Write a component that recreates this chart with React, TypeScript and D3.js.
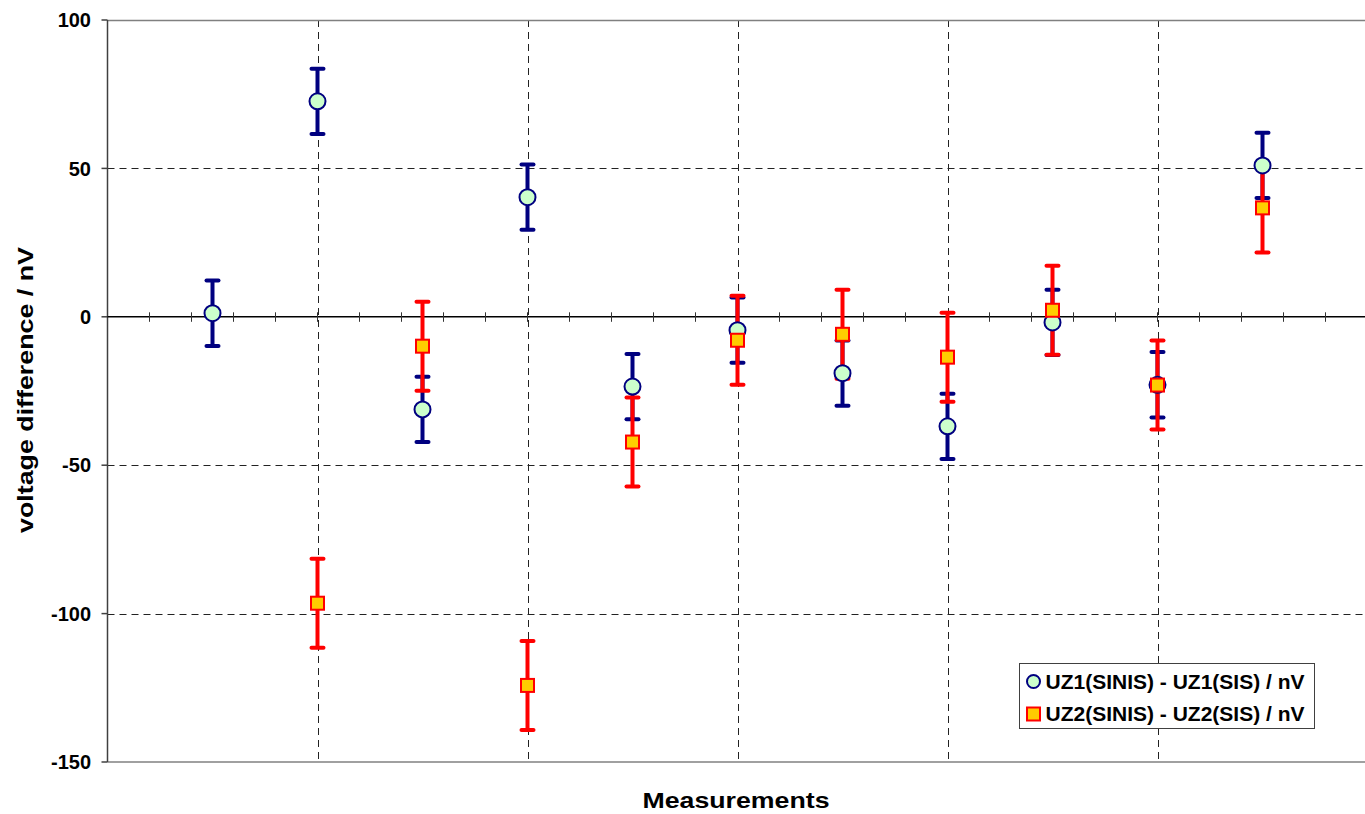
import { useEffect, useRef } from 'react';
import * as d3 from 'd3';

// measurement index on the x axis
const measurements = [1, 2, 3, 4, 5, 6, 7, 8, 9, 10, 11];

// UZ1(SINIS) - UZ1(SIS) in nV, with its error
const uz1Values = [1.2, 72.6, -31.2, 40.3, -23.5, -4.5, -19, -36.9, -1.9, -22.9, 51];
const uz1Errors = [11, 11, 11, 11, 11, 11, 11, 11, 11, 11, 11];

// UZ2(SINIS) - UZ2(SIS) in nV, with its error (no value for the first measurement)
const uz2Values: (number | null)[] = [null, -96.5, -9.9, -124.2, -42.2, -7.9, -5.9, -13.6, 2.2, -23, 36.7];
const uz2Errors: (number | null)[] = [null, 15, 15, 15, 15, 15, 15, 15, 15, 15, 15];

const yTicks = [100, 50, 0, -50, -100, -150];
const xGridTicks = [2, 4, 6, 8, 10];

const seriesNames = ['UZ1(SINIS) - UZ1(SIS) / nV', 'UZ2(SINIS) - UZ2(SIS) / nV'];

export default function App() {
  const svgRef = useRef<SVGSVGElement>(null);
  const width = 1365;
  const height = 814;
  const plot = { left: 107.5, top: 20, bottom: 762 };

  useEffect(() => {
    if (!svgRef.current) return;
    const svg = d3.select(svgRef.current);
    svg.selectAll('*').remove();

    const x = d3.scaleLinear().domain([0, 12]).range([plot.left, plot.left + 12 * 105]);
    const y = d3.scaleLinear().domain([-150, 100]).range([plot.bottom, plot.top]);
    const font = 'Arial, "Liberation Sans", sans-serif';

    // Grid lines
    const grid = svg.append('g')
      .attr('stroke', '#222')
      .attr('stroke-width', 1)
      .attr('stroke-dasharray', '7,5');
    grid.selectAll('.hgrid')
      .data(yTicks.filter(d => d !== 0 && d !== 100 && d !== -150))
      .join('line')
      .attr('x1', plot.left)
      .attr('x2', width)
      .attr('y1', d => Math.round(y(d)) + 0.5)
      .attr('y2', d => Math.round(y(d)) + 0.5);
    grid.selectAll('.vgrid')
      .data(xGridTicks)
      .join('line')
      .attr('x1', d => Math.round(x(d)) + 0.5)
      .attr('x2', d => Math.round(x(d)) + 0.5)
      .attr('y1', plot.top)
      .attr('y2', plot.bottom);

    // Plot border top / bottom
    svg.append('line')
      .attr('x1', plot.left).attr('x2', width)
      .attr('y1', y(100) + 0.5).attr('y2', y(100) + 0.5)
      .attr('stroke', '#808080').attr('stroke-width', 1.5);
    svg.append('line')
      .attr('x1', plot.left).attr('x2', width)
      .attr('y1', y(-150)).attr('y2', y(-150))
      .attr('stroke', '#808080').attr('stroke-width', 1.5);

    // Y axis
    svg.append('line')
      .attr('x1', plot.left).attr('x2', plot.left)
      .attr('y1', plot.top).attr('y2', plot.bottom)
      .attr('stroke', '#404040').attr('stroke-width', 1.5);
    svg.selectAll('.ytick')
      .data(yTicks)
      .join('line')
      .attr('x1', plot.left - 6)
      .attr('x2', plot.left)
      .attr('y1', d => y(d))
      .attr('y2', d => y(d))
      .attr('stroke', '#404040')
      .attr('stroke-width', 1.5);
    svg.selectAll('.ylabel')
      .data(yTicks)
      .join('text')
      .attr('x', 91)
      .attr('y', d => y(d))
      .attr('dy', '0.36em')
      .attr('text-anchor', 'end')
      .style('font-family', font)
      .style('font-size', '20px')
      .style('font-weight', 'bold')
      .text(d => d);

    // X axis through zero, with crossing minor ticks
    svg.append('line')
      .attr('x1', plot.left).attr('x2', width)
      .attr('y1', y(0)).attr('y2', y(0))
      .attr('stroke', '#000').attr('stroke-width', 1.5);
    svg.selectAll('.xtick')
      .data(d3.range(1, 31).map(i => i * 0.4))
      .join('line')
      .attr('x1', d => x(d))
      .attr('x2', d => x(d))
      .attr('y1', y(0) - 4.5)
      .attr('y2', y(0) + 5)
      .attr('stroke', '#333')
      .attr('stroke-width', 1);

    const capHalf = 6;
    const drawBars = (vals: (number | null)[], errs: (number | null)[], color: string) => {
      const g = svg.append('g')
        .attr('stroke', color)
        .attr('stroke-width', 4)
        .attr('stroke-linecap', 'round');
      measurements.forEach((m, i) => {
        const v = vals[i];
        const e = errs[i];
        if (v == null || e == null) return;
        const cx = x(m);
        g.append('line').attr('x1', cx).attr('x2', cx).attr('y1', y(v + e)).attr('y2', y(v - e))
          .attr('stroke-linecap', 'butt');
        g.append('line').attr('x1', cx - capHalf).attr('x2', cx + capHalf).attr('y1', y(v + e)).attr('y2', y(v + e));
        g.append('line').attr('x1', cx - capHalf).attr('x2', cx + capHalf).attr('y1', y(v - e)).attr('y2', y(v - e));
      });
    };

    drawBars(uz1Values, uz1Errors, '#000080');
    drawBars(uz2Values, uz2Errors, '#FF0000');

    // Circles (UZ1)
    svg.selectAll('.uz1')
      .data(measurements)
      .join('circle')
      .attr('cx', d => x(d))
      .attr('cy', (_, i) => y(uz1Values[i]))
      .attr('r', 8)
      .attr('fill', '#CCFFCC')
      .attr('stroke', '#000080')
      .attr('stroke-width', 2);

    // Squares (UZ2)
    const sq = 13;
    svg.selectAll('.uz2')
      .data(measurements.filter((_, i) => uz2Values[i] != null))
      .join('rect')
      .attr('x', d => x(d) - sq / 2)
      .attr('y', d => y(uz2Values[d - 1] as number) - sq / 2)
      .attr('width', sq)
      .attr('height', sq)
      .attr('fill', '#FFCC00')
      .attr('stroke', '#FF0000')
      .attr('stroke-width', 2);

    // Legend
    const legend = svg.append('g').attr('transform', 'translate(1019.5,663.5)');
    legend.append('rect')
      .attr('width', 295)
      .attr('height', 65)
      .attr('fill', '#fff')
      .attr('stroke', '#404040')
      .attr('stroke-width', 1);
    legend.append('circle')
      .attr('cx', 14).attr('cy', 18).attr('r', 6.5)
      .attr('fill', '#CCFFCC').attr('stroke', '#000080').attr('stroke-width', 2);
    legend.append('rect')
      .attr('x', 7.5).attr('y', 44).attr('width', 13).attr('height', 13)
      .attr('fill', '#FFCC00').attr('stroke', '#FF0000').attr('stroke-width', 2);
    legend.selectAll('.ltext')
      .data(seriesNames)
      .join('text')
      .attr('x', 26)
      .attr('y', (_, i) => 25.5 + i * 32)
      .style('font-family', font)
      .style('font-size', '21px')
      .style('font-weight', 'bold')
      .text(d => d);

    // Axis titles
    svg.append('text')
      .attr('transform', `translate(33,${(533 + 247) / 2}) rotate(-90)`)
      .attr('text-anchor', 'middle')
      .attr('textLength', 286)
      .attr('lengthAdjust', 'spacingAndGlyphs')
      .style('font-family', font)
      .style('font-size', '22px')
      .style('font-weight', 'bold')
      .text('voltage difference / nV');

    svg.append('text')
      .attr('x', 736)
      .attr('y', 808)
      .attr('text-anchor', 'middle')
      .attr('textLength', 187)
      .attr('lengthAdjust', 'spacingAndGlyphs')
      .style('font-family', font)
      .style('font-size', '22px')
      .style('font-weight', 'bold')
      .text('Measurements');
  }, []);

  return (
    <svg
      ref={svgRef}
      width={width}
      height={height}
      viewBox={`0 0 ${width} ${height}`}
      style={{ position: 'absolute', left: 0, top: 0, display: 'block', background: '#fff' }}
    />
  );
}
